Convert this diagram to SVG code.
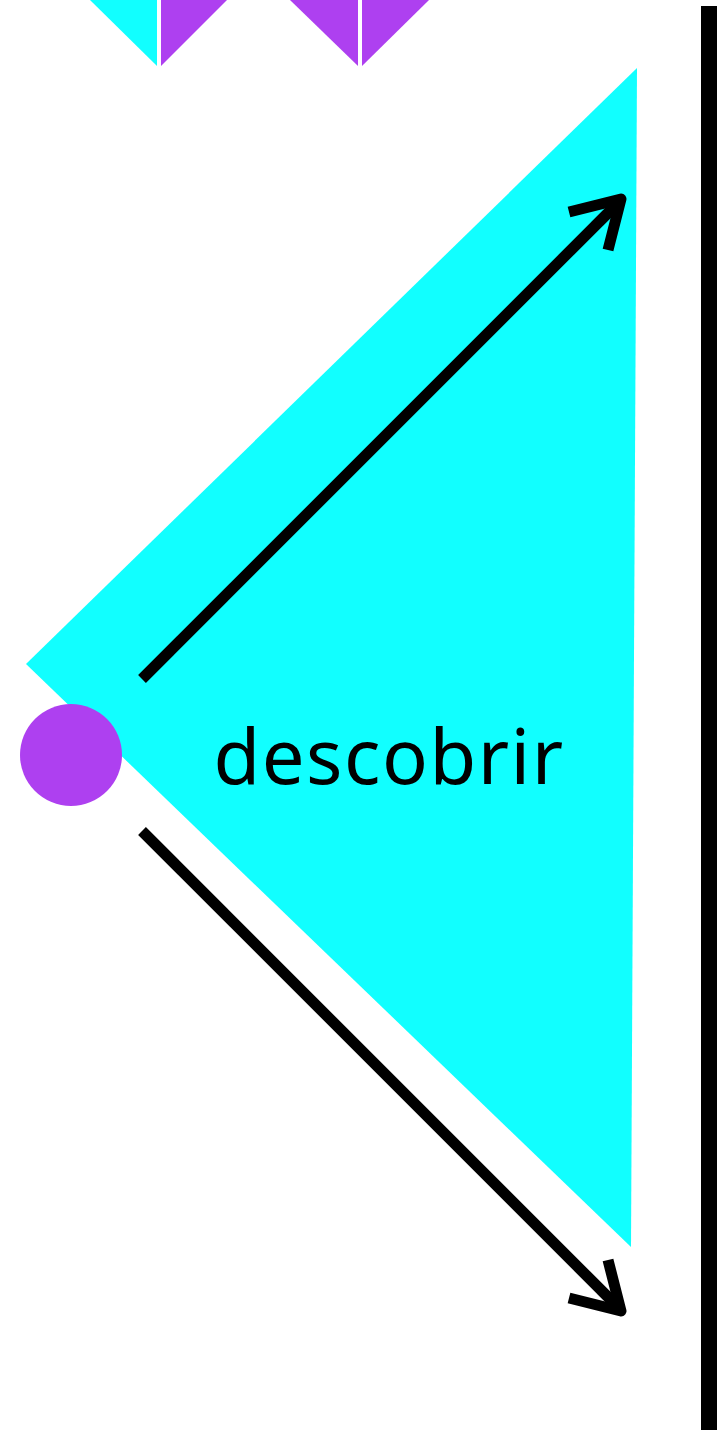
<svg xmlns="http://www.w3.org/2000/svg" width="723" height="1430" viewBox="0 0 723 1430">
<style>
.cy{fill:#11ffff}
.pu{fill:#ae40f0}
.con{fill:none;stroke:#000;stroke-width:11;stroke-linecap:butt;stroke-linejoin:round}
.lbl{font-family:"Noto Sans",sans-serif;font-size:76px;letter-spacing:1.5px;fill:#000}
</style>
<rect width="723" height="1430" fill="#fff"/>
<g id="top-marks">
<polygon class="cy" points="90,0 157,0 157,66"/>
<polygon class="pu" points="161,0 227,0 161,66"/>
<polygon class="pu" points="290,0 358,0 358,66"/>
<polygon class="pu" points="362,0 429,0 362,66"/>
</g>
<g id="cone">
<polygon class="cy" points="637,68 26,664 631,1247"/>
</g>
<g id="bar">
<rect x="701" y="6" width="16" height="1424" fill="#000"/>
</g>
<g id="point">
<circle class="pu" cx="71" cy="755" r="51"/>
</g>
<g id="label">
<text class="lbl" x="389" y="784" text-anchor="middle">descobrir</text>
</g>
<g id="connectors">
<line class="con" x1="142" y1="679" x2="619" y2="202"/>
<polyline class="con" points="569,212 621,199 608,250"/>
<line class="con" x1="142" y1="831" x2="619" y2="1308"/>
<polyline class="con" points="569,1298 621,1311 608,1260"/>
</g>
</svg>
